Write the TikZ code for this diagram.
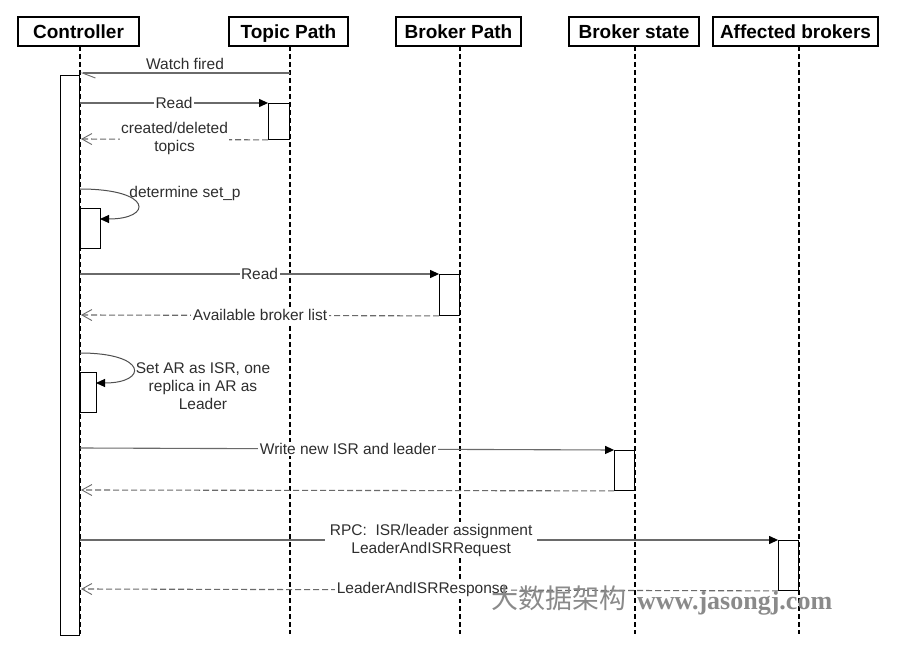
\documentclass[tikz,border=0pt]{standalone}
\usepackage{fontspec}
\setmainfont{Liberation Sans}
\newfontfamily\cjkfont{Noto Sans CJK SC}
\newfontfamily\wmserif{Liberation Serif}
\usetikzlibrary{arrows.meta}

\definecolor{linegray}{HTML}{6A6A6A}
\definecolor{curvegray}{HTML}{505050}
\definecolor{labelgray}{HTML}{2E2E2E}
\definecolor{markgray}{HTML}{8A8A8A}

\tikzset{
  header/.style={draw, line width=1.6pt, inner sep=0pt,
    text height=15pt, text depth=0pt,
    font=\bfseries\fontsize{19}{22}\selectfont},
  lifeline/.style={line width=1.6pt, dash pattern=on 5pt off 3pt},
  actbox/.style={draw, fill=white, line width=0.9pt, inner sep=0pt},
  callmsg/.style={draw=linegray, line width=1.1pt,
    -{Triangle[length=9pt,width=8pt,black]}},
  replymsg/.style={draw=linegray, line width=1.1pt, dash pattern=on 6pt off 3pt,
    -{Straight Barb[length=10pt,width=11pt,line width=0.9pt]}},
  selfmsg/.style={draw=curvegray, line width=1pt,
    -{Triangle[length=9pt,width=8pt,black]}},
  msglabel/.style={font=\fontsize{15.5}{18}\selectfont, text=labelgray,
    align=center, inner sep=1.5pt},
  cutlabel/.style={msglabel, fill=white},
}

\begin{document}
\begin{tikzpicture}[x=1pt,y=-1pt]
\useasboundingbox[fill=white] (0,0) rectangle (906,655);

% participants
\node[header, minimum width=121pt, minimum height=29pt] (ctl) at (78.5,31.5) {Controller};
\node[header, minimum width=119pt, minimum height=29pt] (tp)  at (288.5,31.5) {Topic Path};
\node[header, minimum width=125pt, minimum height=29pt] (bp)  at (458.5,31.5) {Broker Path};
\node[header, minimum width=130pt, minimum height=29pt] (bs)  at (634,31.5) {Broker state};
\node[header, minimum width=165pt, minimum height=29pt] (ab)  at (795.5,31.5) {Affected brokers};

% lifelines
\coordinate (ctlTop) at (80,46);  \coordinate (ctlEnd) at (80,634);
\coordinate (tpTop)  at (290,46); \coordinate (tpEnd)  at (290,634);
\coordinate (bpTop)  at (460,46); \coordinate (bpEnd)  at (460,634);
\coordinate (bsTop)  at (635,46); \coordinate (bsEnd)  at (635,634);
\coordinate (abTop)  at (799,46); \coordinate (abEnd)  at (799,634);
\foreach \p in {ctl,tp,bp,bs,ab}
  \draw[lifeline] (\p Top) -- (\p End);

% activation bars
\node[actbox, minimum width=19pt, minimum height=560pt, anchor=north east] (ctlA) at (80,75) {};
\node[actbox, minimum width=21pt, minimum height=36pt, anchor=north east] (tpA) at (290,103) {};
\node[actbox, minimum width=20pt, minimum height=40pt, anchor=north west] (selfA) at (80,208) {};
\node[actbox, minimum width=20pt, minimum height=41pt, anchor=north east] (bpA) at (460,274) {};
\node[actbox, minimum width=16pt, minimum height=40pt, anchor=north west] (selfB) at (80,372) {};
\node[actbox, minimum width=20pt, minimum height=40pt, anchor=north east] (bsA) at (635,450) {};
\node[actbox, minimum width=20pt, minimum height=50pt, anchor=north east] (abA) at (799,540) {};

% message end points on the controller lifeline
\coordinate (cWatch) at (80,73);
\coordinate (tWatch) at (290,73);
\coordinate (cRead)  at (80,103);
\coordinate (cTopics) at (81,139);
\coordinate (cSetP)  at (80,189);
\coordinate (aSetP)  at (100,219);
\coordinate (cRead2) at (80,274);
\coordinate (cList)  at (81,315);
\coordinate (cIsr)   at (80,353);
\coordinate (aIsr)   at (96,383);
\coordinate (cWrite) at (80,448);
\coordinate (cAck)   at (81,490);
\coordinate (cRpc)   at (80,540);
\coordinate (cResp)  at (81,589);

% Watch fired
\draw[draw=linegray, line width=1.1pt,
  -{Straight Barb[harpoon,length=13pt,width=10pt,line width=0.9pt]}] (tWatch) -- (cWatch);
\node[msglabel] (lWatch) at (185,64) {Watch fired};

% Read topics
\draw[callmsg] (cRead) -- (tpA.north west)
  node[cutlabel, pos=0.5] (lRead) {Read};
\draw[replymsg] (tpA.south west) -- (cTopics)
  node[cutlabel, pos=0.5, yshift=1pt] (lTopics) {created/deleted\\topics};

% determine set_p
\draw[selfmsg] (cSetP) .. controls (153,189) and (153,219) .. (aSetP);
\node[msglabel] (lSetP) at (185,193) {determine set\_p};

% Read brokers
\draw[callmsg] (cRead2) -- (bpA.north west)
  node[cutlabel, pos=0.5] (lRead2) {Read};
\draw[replymsg] (bpA.south west) -- (cList)
  node[cutlabel, pos=0.5] (lList) {Available broker list};

% set AR as ISR
\draw[selfmsg] (cIsr) .. controls (148,353) and (148,383) .. (aIsr);
\node[msglabel] (lIsr) at (203,386) {Set AR as ISR, one\\replica in AR as\\Leader};

% write ISR and leader
\draw[callmsg] (cWrite) -- (bsA.north west)
  node[cutlabel, pos=0.502] (lWrite) {Write new ISR and leader};
\draw[replymsg] (bsA.south west) -- (cAck);

% RPC to affected brokers
\draw[callmsg] (cRpc) -- (abA.north west)
  node[cutlabel, pos=0.503, inner xsep=5pt] (lRpc) {RPC:\ \ ISR/leader assignment\\LeaderAndISRRequest};
\draw[replymsg] (abA.south west) -- (cResp)
  node[cutlabel, pos=0.51] (lResp) {LeaderAndISRResponse};

% site mark
\node[anchor=base west, inner sep=0pt, text=markgray,
  font=\cjkfont\fontsize{27}{30}\selectfont] (markZh) at (491,608) {大数据架构};
\node[anchor=base west, inner sep=0pt, text=markgray,
  font=\wmserif\bfseries\fontsize{26}{30}\selectfont] (markEn) at (637,609) {www.jasongj.com};
\end{tikzpicture}
\end{document}
